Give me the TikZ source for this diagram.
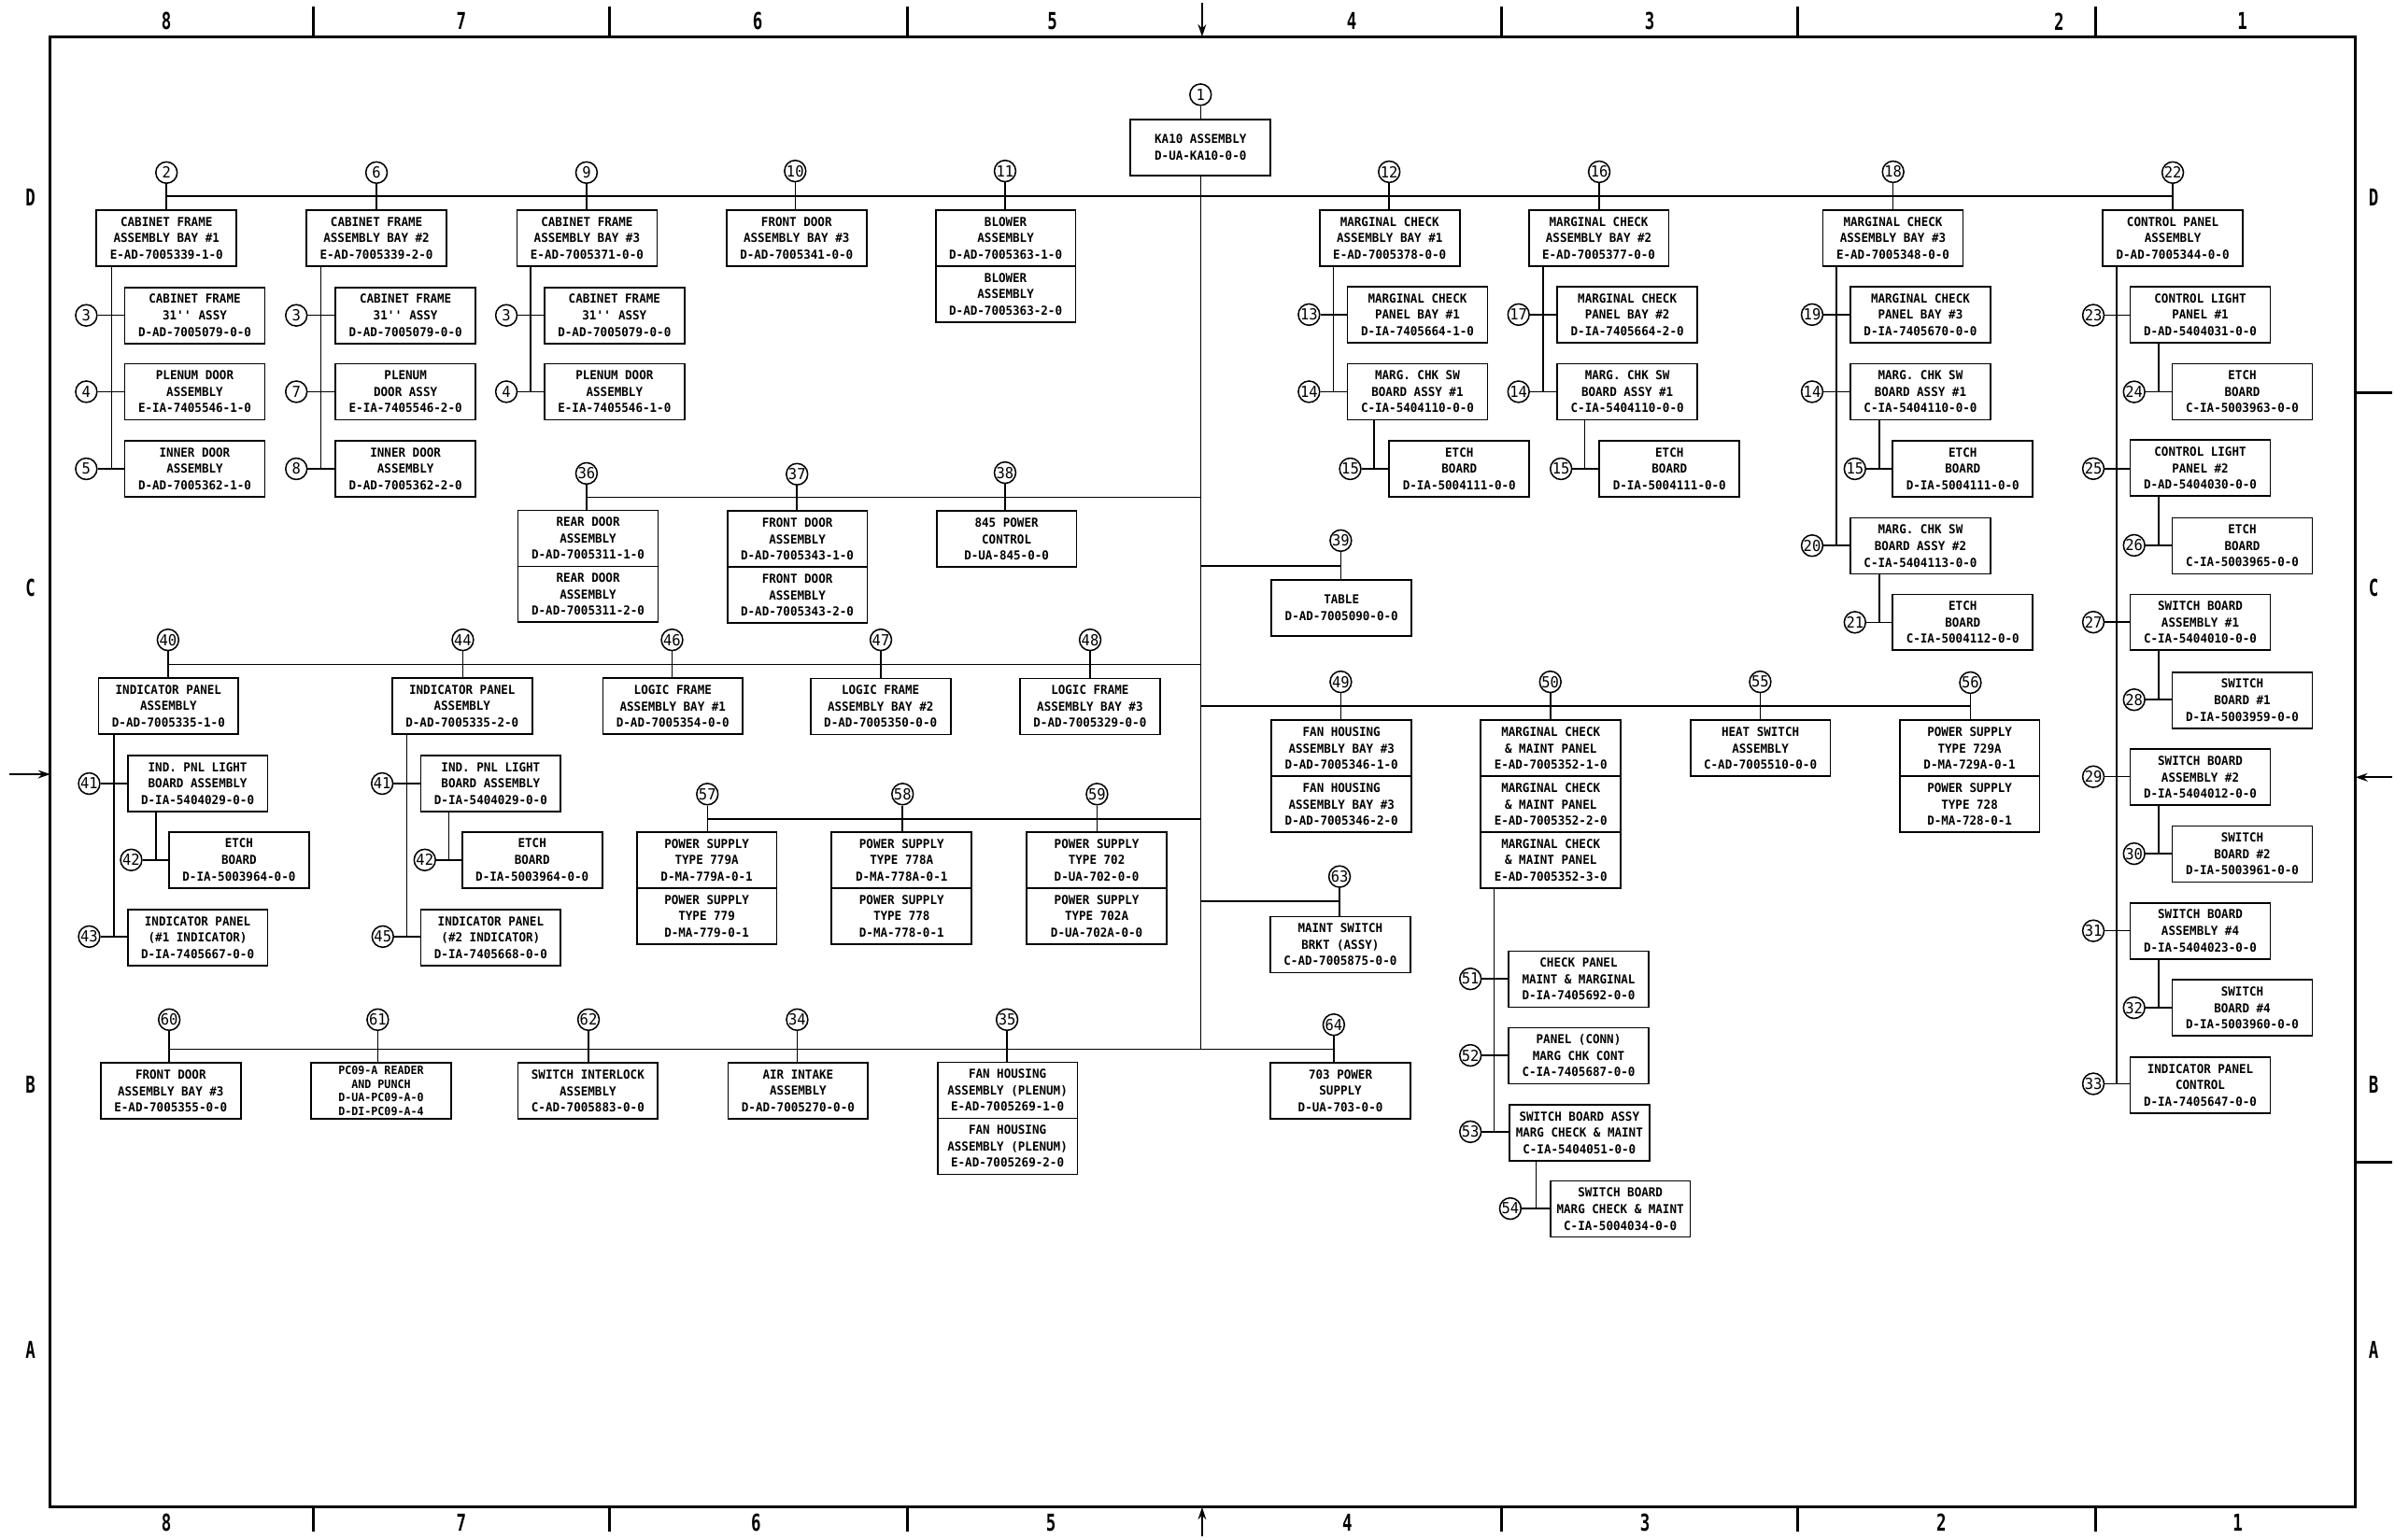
\documentclass[tikz,border=0pt]{standalone}
\usepackage{fontspec}
\newfontfamily\leroy[FakeStretch=0.95]{DejaVu Sans Mono}
\newfontfamily\zonefnt[FakeStretch=0.7]{DejaVu Sans Mono}
\usetikzlibrary{arrows.meta,positioning}

\begin{document}
\begin{tikzpicture}[x=0.3mm, y=-0.3mm,
  box/.style={draw, line width=0.9pt, outer sep=0pt, minimum width=27.5mm, minimum height=11mm, inner sep=1pt, align=center, font=\leroy\bfseries\fontsize{6.9}{9.2}\selectfont},
  tallbox/.style={box, font=\leroy\bfseries\fontsize{6.4}{7.6}\selectfont},
  bal/.style={draw, circle, line width=0.8pt, minimum size=4.2mm, inner sep=0pt, font=\leroy\fontsize{8.5}{8.5}\selectfont},
  ln/.style={line width=0.8pt},
  frm/.style={line width=1.6pt},
  zone/.style={font=\zonefnt\bfseries\fontsize{13}{13}\selectfont},
  arr/.style={-{Stealth[length=2.4mm,width=1.6mm]}, line width=1.1pt}]
  \useasboundingbox (0,0) rectangle (1568,1008);

  % sheet frame and zones
  \draw[frm] (33,24) rectangle (1542,987);
  \draw[frm] (205,4) -- (205,24) (399,4) -- (399,24) (594,4) -- (594,24)
    (983,4) -- (983,24) (1177,4) -- (1177,24) (1372,4) -- (1372,24);
  \draw[frm] (205,987) -- (205,1003) (399,987) -- (399,1003) (594,987) -- (594,1003)
    (983,987) -- (983,1003) (1177,987) -- (1177,1003) (1372,987) -- (1372,1003);
  \draw[frm] (1542,257) -- (1566,257) (1542,761) -- (1566,761);
  \draw[arr] (787,2) -- (787,24);
  \draw[arr] (787,1006) -- (787,987);
  \draw[arr] (6,507) -- (33,507);
  \draw[arr] (1566,509) -- (1542,509);
  \node[zone] (zt8) at (109,14) {8};
  \node[zone] (zt7) at (302,14) {7};
  \node[zone] (zt6) at (496,14) {6};
  \node[zone] (zt5) at (689,14) {5};
  \node[zone] (zt4) at (885,14) {4};
  \node[zone] (zt3) at (1080,14) {3};
  \node[zone] (zt2) at (1348,14) {2};
  \node[zone] (zt1) at (1468,14) {1};
  \node[zone] (zb8) at (109,997) {8};
  \node[zone] (zb7) at (302,997) {7};
  \node[zone] (zb6) at (495,997) {6};
  \node[zone] (zb5) at (688,997) {5};
  \node[zone] (zb4) at (882,997) {4};
  \node[zone] (zb3) at (1077,997) {3};
  \node[zone] (zb2) at (1271,997) {2};
  \node[zone] (zb1) at (1465,997) {1};
  \node[zone] (zlD) at (20,129) {D};
  \node[zone] (zlC) at (20,385) {C};
  \node[zone] (zlB) at (20,710) {B};
  \node[zone] (zlA) at (20,884) {A};
  \node[zone] (zrD) at (1554,129) {D};
  \node[zone] (zrC) at (1554,385) {C};
  \node[zone] (zrB) at (1554,710) {B};
  \node[zone] (zrA) at (1554,884) {A};

  % bus levels and spines
  \coordinate (topbus) at (0,128.5);
  \coordinate (bus36) at (0,325.7);
  \coordinate (bus39) at (0,370.5);
  \coordinate (bus40) at (0,435);
  \coordinate (bus49) at (0,462.4);
  \coordinate (bus57) at (0,536.2);
  \coordinate (bus63) at (0,590.2);
  \coordinate (botbus) at (0,687.1);
  \coordinate (sp2) at (73,0);
  \coordinate (sp6) at (210,0);
  \coordinate (sp9) at (347.2,0);
  \coordinate (sp12) at (873,0);
  \coordinate (sp14a) at (899.6,0);
  \coordinate (sp16) at (1010.3,0);
  \coordinate (sp14b) at (1037.5,0);
  \coordinate (sp18) at (1202.3,0);
  \coordinate (sp14c) at (1230.3,0);
  \coordinate (sp22) at (1385.7,0);
  \coordinate (sp23) at (1413.2,0);
  \coordinate (sp40) at (74.6,0);
  \coordinate (sp41a) at (102.1,0);
  \coordinate (sp44) at (266.4,0);
  \coordinate (sp41b) at (293.8,0);
  \coordinate (sp50) at (978.2,0);
  \coordinate (sp53) at (1005.7,0);

  % KA10
  \node[bal] (b1) at (786,62) {1};
  \node[box] (c1) at (786,96.5) {KA10 ASSEMBLY\\D-UA-KA10-0-0};

  % cabinet frames
  \node[bal] (b2) at (109,113) {2};
  \node[box] (c2) at (109,156) {CABINET FRAME\\ASSEMBLY BAY \#1\\E-AD-7005339-1-0};
  \node[bal] (b3a) at (56.5,206.5) {3};
  \node[box] (c3a) at (127.5,206.5) {CABINET FRAME\\31\textquotesingle\textquotesingle{} ASSY\\D-AD-7005079-0-0};
  \node[bal] (b4a) at (56.5,256.5) {4};
  \node[box] (c4a) at (127.5,256.5) {PLENUM DOOR\\ASSEMBLY\\E-IA-7405546-1-0};
  \node[bal] (b5) at (56.5,307) {5};
  \node[box] (c5) at (127.5,307) {INNER DOOR\\ASSEMBLY\\D-AD-7005362-1-0};

  \node[bal] (b6) at (246.5,113) {6};
  \node[box] (c6) at (246.5,156) {CABINET FRAME\\ASSEMBLY BAY \#2\\E-AD-7005339-2-0};
  \node[bal] (b3b) at (194,206.5) {3};
  \node[box] (c3b) at (265.5,206.5) {CABINET FRAME\\31\textquotesingle\textquotesingle{} ASSY\\D-AD-7005079-0-0};
  \node[bal] (b7) at (194,256.5) {7};
  \node[box] (c7) at (265.5,256.5) {PLENUM\\DOOR ASSY\\E-IA-7405546-2-0};
  \node[bal] (b8) at (194,307) {8};
  \node[box] (c8) at (265.5,307) {INNER DOOR\\ASSEMBLY\\D-AD-7005362-2-0};

  \node[bal] (b9) at (384,113) {9};
  \node[box] (c9) at (384.3,156) {CABINET FRAME\\ASSEMBLY BAY \#3\\E-AD-7005371-0-0};
  \node[bal] (b3c) at (331.5,206.5) {3};
  \node[box] (c3c) at (402.3,206.5) {CABINET FRAME\\31\textquotesingle\textquotesingle{} ASSY\\D-AD-7005079-0-0};
  \node[bal] (b4c) at (331.5,256.5) {4};
  \node[box] (c4c) at (402.3,256.5) {PLENUM DOOR\\ASSEMBLY\\E-IA-7405546-1-0};

  \node[bal] (b10) at (520.6,112) {10};
  \node[box] (c10) at (521.5,156) {FRONT DOOR\\ASSEMBLY BAY \#3\\D-AD-7005341-0-0};
  \node[bal] (b11) at (658,112) {11};
  \node[box] (c11a) at (658.4,156) {BLOWER\\ASSEMBLY\\D-AD-7005363-1-0};
  \node[box, below=0pt of c11a] (c11b) {BLOWER\\ASSEMBLY\\D-AD-7005363-2-0};

  % marginal check
  \node[bal] (b12) at (909.5,112.5) {12};
  \node[box] (c12) at (909.8,156) {MARGINAL CHECK\\ASSEMBLY BAY \#1\\E-AD-7005378-0-0};
  \node[bal] (b13) at (857,206) {13};
  \node[box] (c13) at (928,206) {MARGINAL CHECK\\PANEL BAY \#1\\D-IA-7405664-1-0};
  \node[bal] (b14a) at (857,256.5) {14};
  \node[box] (c14a) at (928,256.5) {MARG. CHK SW\\BOARD ASSY \#1\\C-IA-5404110-0-0};
  \node[bal] (b15a) at (884,307) {15};
  \node[box] (c15a) at (955.4,307) {ETCH\\BOARD\\D-IA-5004111-0-0};

  \node[bal] (b16) at (1047,112.5) {16};
  \node[box] (c16) at (1046.7,156) {MARGINAL CHECK\\ASSEMBLY BAY \#2\\E-AD-7005377-0-0};
  \node[bal] (b17) at (994.2,206) {17};
  \node[box] (c17) at (1065.4,206) {MARGINAL CHECK\\PANEL BAY \#2\\D-IA-7405664-2-0};
  \node[bal] (b14b) at (994.2,256.5) {14};
  \node[box] (c14b) at (1065.4,256.5) {MARG. CHK SW\\BOARD ASSY \#1\\C-IA-5404110-0-0};
  \node[bal] (b15b) at (1022,307) {15};
  \node[box] (c15b) at (1093,307) {ETCH\\BOARD\\D-IA-5004111-0-0};

  \node[bal] (b18) at (1239.4,112.5) {18};
  \node[box] (c18) at (1239.3,156) {MARGINAL CHECK\\ASSEMBLY BAY \#3\\E-AD-7005348-0-0};
  \node[bal] (b19) at (1186.4,206) {19};
  \node[box] (c19) at (1257.3,206) {MARGINAL CHECK\\PANEL BAY \#3\\D-IA-7405670-0-0};
  \node[bal] (b14c) at (1186.4,256.5) {14};
  \node[box] (c14c) at (1257.3,256.5) {MARG. CHK SW\\BOARD ASSY \#1\\C-IA-5404110-0-0};
  \node[bal] (b15c) at (1214.4,307) {15};
  \node[box] (c15c) at (1285,307) {ETCH\\BOARD\\D-IA-5004111-0-0};
  \node[bal] (b20) at (1186.4,357.3) {20};
  \node[box] (c20) at (1257.3,357.5) {MARG. CHK SW\\BOARD ASSY \#2\\C-IA-5404113-0-0};
  \node[bal] (b21) at (1214.4,407.5) {21};
  \node[box] (c21) at (1285,407.5) {ETCH\\BOARD\\C-IA-5004112-0-0};

  % control panel
  \node[bal] (b22) at (1422.5,113) {22};
  \node[box] (c22) at (1422.5,156) {CONTROL PANEL\\ASSEMBLY\\D-AD-7005344-0-0};
  \node[bal] (b23) at (1370.5,206.4) {23};
  \node[box] (c23) at (1440.5,206) {CONTROL LIGHT\\PANEL \#1\\D-AD-5404031-0-0};
  \node[bal] (b24) at (1397.2,256.6) {24};
  \node[box] (c24) at (1468,256.5) {ETCH\\BOARD\\C-IA-5003963-0-0};
  \node[bal] (b25) at (1370.5,306.9) {25};
  \node[box] (c25) at (1440.5,306.5) {CONTROL LIGHT\\PANEL \#2\\D-AD-5404030-0-0};
  \node[bal] (b26) at (1397.2,357.1) {26};
  \node[box] (c26) at (1468,357.5) {ETCH\\BOARD\\C-IA-5003965-0-0};
  \node[bal] (b27) at (1370.5,407.4) {27};
  \node[box] (c27) at (1440.5,407.5) {SWITCH BOARD\\ASSEMBLY \#1\\C-IA-5404010-0-0};
  \node[bal] (b28) at (1397.2,458.2) {28};
  \node[box] (c28) at (1468,458.5) {SWITCH\\BOARD \#1\\D-IA-5003959-0-0};
  \node[bal] (b29) at (1370.5,508.6) {29};
  \node[box] (c29) at (1440.5,509) {SWITCH BOARD\\ASSEMBLY \#2\\D-IA-5404012-0-0};
  \node[bal] (b30) at (1397.2,559) {30};
  \node[box] (c30) at (1468,559.3) {SWITCH\\BOARD \#2\\D-IA-5003961-0-0};
  \node[bal] (b31) at (1370.5,609.5) {31};
  \node[box] (c31) at (1440.5,609.5) {SWITCH BOARD\\ASSEMBLY \#4\\D-IA-5404023-0-0};
  \node[bal] (b32) at (1397.2,659.9) {32};
  \node[box] (c32) at (1468,660) {SWITCH\\BOARD \#4\\D-IA-5003960-0-0};
  \node[bal] (b33) at (1370.5,709.7) {33};
  \node[box] (c33) at (1440.5,710.5) {INDICATOR PANEL\\CONTROL\\D-IA-7405647-0-0};

  % doors, power control, table
  \node[bal] (b36) at (384,310) {36};
  \node[box] (c36a) at (385,352.5) {REAR DOOR\\ASSEMBLY\\D-AD-7005311-1-0};
  \node[box, below=0pt of c36a] (c36b) {REAR DOOR\\ASSEMBLY\\D-AD-7005311-2-0};
  \node[bal] (b37) at (521.8,310.5) {37};
  \node[box] (c37a) at (522,353) {FRONT DOOR\\ASSEMBLY\\D-AD-7005343-1-0};
  \node[box, below=0pt of c37a] (c37b) {FRONT DOOR\\ASSEMBLY\\D-AD-7005343-2-0};
  \node[bal] (b38) at (658,309.5) {38};
  \node[box] (c38) at (659,353) {845 POWER\\CONTROL\\D-UA-845-0-0};
  \node[bal] (b39) at (877.8,354) {39};
  \node[box] (c39) at (878.3,398) {TABLE\\D-AD-7005090-0-0};

  % indicator panels and logic frames
  \node[bal] (b40) at (110,419) {40};
  \node[box] (c40) at (110.3,462.3) {INDICATOR PANEL\\ASSEMBLY\\D-AD-7005335-1-0};
  \node[bal] (b41a) at (58.4,513.1) {41};
  \node[box] (c41a) at (129.4,513.2) {IND. PNL LIGHT\\BOARD ASSEMBLY\\D-IA-5404029-0-0};
  \node[bal] (b42a) at (85.9,563.1) {42};
  \node[box] (c42a) at (156.5,563.1) {ETCH\\BOARD\\D-IA-5003964-0-0};
  \node[bal] (b43) at (58.4,613.3) {43};
  \node[box] (c43) at (129.4,614) {INDICATOR PANEL\\(\#1 INDICATOR)\\D-IA-7405667-0-0};

  \node[bal] (b44) at (303,419) {44};
  \node[box] (c44) at (302.6,462.3) {INDICATOR PANEL\\ASSEMBLY\\D-AD-7005335-2-0};
  \node[bal] (b41b) at (250.2,513.1) {41};
  \node[box] (c41b) at (321.3,513.2) {IND. PNL LIGHT\\BOARD ASSEMBLY\\D-IA-5404029-0-0};
  \node[bal] (b42b) at (278.1,563.1) {42};
  \node[box] (c42b) at (348.4,563.1) {ETCH\\BOARD\\D-IA-5003964-0-0};
  \node[bal] (b45) at (250.6,613.3) {45};
  \node[box] (c45) at (321.3,614) {INDICATOR PANEL\\(\#2 INDICATOR)\\D-IA-7405668-0-0};

  \node[bal] (b46) at (440,419) {46};
  \node[box] (c46) at (440.5,462.5) {LOGIC FRAME\\ASSEMBLY BAY \#1\\D-AD-7005354-0-0};
  \node[bal] (b47) at (576.7,419) {47};
  \node[box] (c47) at (576.5,462.6) {LOGIC FRAME\\ASSEMBLY BAY \#2\\D-AD-7005350-0-0};
  \node[bal] (b48) at (713.7,419) {48};
  \node[box] (c48) at (713.6,462.6) {LOGIC FRAME\\ASSEMBLY BAY \#3\\D-AD-7005329-0-0};

  % fan housing, marginal check panels, heat switch
  \node[bal] (b49) at (877.8,446.5) {49};
  \node[box] (c49a) at (878.3,490) {FAN HOUSING\\ASSEMBLY BAY \#3\\D-AD-7005346-1-0};
  \node[box, below=0pt of c49a] (c49b) {FAN HOUSING\\ASSEMBLY BAY \#3\\D-AD-7005346-2-0};
  \node[bal] (b50) at (1015,446.5) {50};
  \node[box] (c50a) at (1015.3,490) {MARGINAL CHECK\\\& MAINT PANEL\\E-AD-7005352-1-0};
  \node[box, below=0pt of c50a] (c50b) {MARGINAL CHECK\\\& MAINT PANEL\\E-AD-7005352-2-0};
  \node[box, below=0pt of c50b] (c50c) {MARGINAL CHECK\\\& MAINT PANEL\\E-AD-7005352-3-0};
  \node[bal] (b51) at (962.7,641) {51};
  \node[box] (c51) at (1033.5,641.2) {CHECK PANEL\\MAINT \& MARGINAL\\D-IA-7405692-0-0};
  \node[bal] (b52) at (962.7,691.1) {52};
  \node[box] (c52) at (1033.5,691.3) {PANEL (CONN)\\MARG CHK CONT\\C-IA-7405687-0-0};
  \node[bal] (b53) at (962.7,741.1) {53};
  \node[box] (c53) at (1034,741.7) {SWITCH BOARD ASSY\\MARG CHECK \& MAINT\\C-IA-5404051-0-0};
  \node[bal] (b54) at (988.8,791.4) {54};
  \node[box] (c54) at (1060.8,791.7) {SWITCH BOARD\\MARG CHECK \& MAINT\\C-IA-5004034-0-0};
  \node[bal] (b55) at (1152.4,446.5) {55};
  \node[box] (c55) at (1152.5,490) {HEAT SWITCH\\ASSEMBLY\\C-AD-7005510-0-0};
  \node[bal] (b56) at (1290,447) {56};
  \node[box] (c56a) at (1289.5,490) {POWER SUPPLY\\TYPE 729A\\D-MA-729A-0-1};
  \node[box, below=0pt of c56a] (c56b) {POWER SUPPLY\\TYPE 728\\D-MA-728-0-1};

  % power supplies
  \node[bal] (b57) at (463.1,520) {57};
  \node[box] (c57a) at (462.7,563.3) {POWER SUPPLY\\TYPE 779A\\D-MA-779A-0-1};
  \node[box, below=0pt of c57a] (c57b) {POWER SUPPLY\\TYPE 779\\D-MA-779-0-1};
  \node[bal] (b58) at (590.9,520) {58};
  \node[box] (c58a) at (590.3,563.3) {POWER SUPPLY\\TYPE 778A\\D-MA-778A-0-1};
  \node[box, below=0pt of c58a] (c58b) {POWER SUPPLY\\TYPE 778\\D-MA-778-0-1};
  \node[bal] (b59) at (718.2,520) {59};
  \node[box] (c59a) at (718,563.3) {POWER SUPPLY\\TYPE 702\\D-UA-702-0-0};
  \node[box, below=0pt of c59a] (c59b) {POWER SUPPLY\\TYPE 702A\\D-UA-702A-0-0};
  \node[bal] (b63) at (877,574) {63};
  \node[box] (c63) at (877.5,618.5) {MAINT SWITCH\\BRKT (ASSY)\\C-AD-7005875-0-0};

  % bottom row
  \node[bal] (b60) at (110.8,667.7) {60};
  \node[box] (c60) at (111.8,714.4) {FRONT DOOR\\ASSEMBLY BAY \#3\\E-AD-7005355-0-0};
  \node[bal] (b61) at (247.3,667.7) {61};
  \node[tallbox] (c61) at (249.5,714.4) {PC09-A READER\\AND PUNCH\\D-UA-PC09-A-0\\D-DI-PC09-A-4};
  \node[bal] (b62) at (385.3,667.7) {62};
  \node[box] (c62) at (384.9,714.4) {SWITCH INTERLOCK\\ASSEMBLY\\C-AD-7005883-0-0};
  \node[bal] (b34) at (521.9,667.7) {34};
  \node[box] (c34) at (522.5,714.4) {AIR INTAKE\\ASSEMBLY\\D-AD-7005270-0-0};
  \node[bal] (b35) at (659.3,667.7) {35};
  \node[box] (c35a) at (659.6,714) {FAN HOUSING\\ASSEMBLY (PLENUM)\\E-AD-7005269-1-0};
  \node[box, below=0pt of c35a] (c35b) {FAN HOUSING\\ASSEMBLY (PLENUM)\\E-AD-7005269-2-0};
  \node[bal] (b64) at (873.2,671) {64};
  \node[box] (c64) at (877.6,714.3) {703 POWER\\SUPPLY\\D-UA-703-0-0};

  % trunk and buses
  \draw[ln] (b1) -- (b1 |- c1.north);
  \draw[ln] (c1.south) -- (c1 |- botbus);
  \draw[ln] (b2 |- topbus) -- (b22 |- topbus);
  \draw[ln] (b36 |- bus36) -- (c1 |- bus36);
  \draw[ln] (c1 |- bus39) -- (b39 |- bus39);
  \draw[ln] (b40 |- bus40) -- (c1 |- bus40);
  \draw[ln] (c1 |- bus49) -- (b56 |- bus49);
  \draw[ln] (b57 |- bus57) -- (c1 |- bus57);
  \draw[ln] (c1 |- bus63) -- (b63 |- bus63);
  \draw[ln] (b60 |- botbus) -- (b64 |- botbus);

  % balloon stems
  \draw[ln] (b2) -- (b2 |- c2.north);
  \draw[ln] (b6) -- (b6 |- c6.north);
  \draw[ln] (b9) -- (b9 |- c9.north);
  \draw[ln] (b10) -- (b10 |- c10.north);
  \draw[ln] (b11) -- (b11 |- c11a.north);
  \draw[ln] (b12) -- (b12 |- c12.north);
  \draw[ln] (b16) -- (b16 |- c16.north);
  \draw[ln] (b18) -- (b18 |- c18.north);
  \draw[ln] (b22) -- (b22 |- c22.north);
  \draw[ln] (b36) -- (b36 |- c36a.north);
  \draw[ln] (b37) -- (b37 |- c37a.north);
  \draw[ln] (b38) -- (b38 |- c38.north);
  \draw[ln] (b39) -- (b39 |- c39.north);
  \draw[ln] (b40) -- (b40 |- c40.north);
  \draw[ln] (b44) -- (b44 |- c44.north);
  \draw[ln] (b46) -- (b46 |- c46.north);
  \draw[ln] (b47) -- (b47 |- c47.north);
  \draw[ln] (b48) -- (b48 |- c48.north);
  \draw[ln] (b49) -- (b49 |- c49a.north);
  \draw[ln] (b50) -- (b50 |- c50a.north);
  \draw[ln] (b55) -- (b55 |- c55.north);
  \draw[ln] (b56) -- (b56 |- c56a.north);
  \draw[ln] (b57) -- (b57 |- c57a.north);
  \draw[ln] (b58) -- (b58 |- c58a.north);
  \draw[ln] (b59) -- (b59 |- c59a.north);
  \draw[ln] (b63) -- (b63 |- c63.north);
  \draw[ln] (b60) -- (b60 |- c60.north);
  \draw[ln] (b61) -- (b61 |- c61.north);
  \draw[ln] (b62) -- (b62 |- c62.north);
  \draw[ln] (b34) -- (b34 |- c34.north);
  \draw[ln] (b35) -- (b35 |- c35a.north);
  \draw[ln] (b64) -- (b64 |- c64.north);

  % spines
  \draw[ln] (c2.south -| sp2) -- (b5 -| sp2);
  \draw[ln] (c6.south -| sp6) -- (b8 -| sp6);
  \draw[ln] (c9.south -| sp9) -- (b4c -| sp9);
  \draw[ln] (c12.south -| sp12) -- (b14a -| sp12);
  \draw[ln] (c14a.south -| sp14a) -- (b15a -| sp14a);
  \draw[ln] (c16.south -| sp16) -- (b14b -| sp16);
  \draw[ln] (c14b.south -| sp14b) -- (b15b -| sp14b);
  \draw[ln] (c18.south -| sp18) -- (b20 -| sp18);
  \draw[ln] (c14c.south -| sp14c) -- (b15c -| sp14c);
  \draw[ln] (c20.south -| sp14c) -- (b21 -| sp14c);
  \draw[ln] (c22.south -| sp22) -- (b33 -| sp22);
  \draw[ln] (c23.south -| sp23) -- (b24 -| sp23);
  \draw[ln] (c25.south -| sp23) -- (b26 -| sp23);
  \draw[ln] (c27.south -| sp23) -- (b28 -| sp23);
  \draw[ln] (c29.south -| sp23) -- (b30 -| sp23);
  \draw[ln] (c31.south -| sp23) -- (b32 -| sp23);
  \draw[ln] (c40.south -| sp40) -- (b43 -| sp40);
  \draw[ln] (c41a.south -| sp41a) -- (b42a -| sp41a);
  \draw[ln] (c44.south -| sp44) -- (b45 -| sp44);
  \draw[ln] (c41b.south -| sp41b) -- (b42b -| sp41b);
  \draw[ln] (c50c.south -| sp50) -- (b53 -| sp50);
  \draw[ln] (c53.south -| sp53) -- (b54 -| sp53);

  % side branches
  \draw[ln] (b3a) -- (b3a -| c3a.west);
  \draw[ln] (b4a) -- (b4a -| c4a.west);
  \draw[ln] (b5) -- (b5 -| c5.west);
  \draw[ln] (b3b) -- (b3b -| c3b.west);
  \draw[ln] (b7) -- (b7 -| c7.west);
  \draw[ln] (b8) -- (b8 -| c8.west);
  \draw[ln] (b3c) -- (b3c -| c3c.west);
  \draw[ln] (b4c) -- (b4c -| c4c.west);
  \draw[ln] (b13) -- (b13 -| c13.west);
  \draw[ln] (b14a) -- (b14a -| c14a.west);
  \draw[ln] (b15a) -- (b15a -| c15a.west);
  \draw[ln] (b17) -- (b17 -| c17.west);
  \draw[ln] (b14b) -- (b14b -| c14b.west);
  \draw[ln] (b15b) -- (b15b -| c15b.west);
  \draw[ln] (b19) -- (b19 -| c19.west);
  \draw[ln] (b14c) -- (b14c -| c14c.west);
  \draw[ln] (b15c) -- (b15c -| c15c.west);
  \draw[ln] (b20) -- (b20 -| c20.west);
  \draw[ln] (b21) -- (b21 -| c21.west);
  \draw[ln] (b23) -- (b23 -| c23.west);
  \draw[ln] (b24) -- (b24 -| c24.west);
  \draw[ln] (b25) -- (b25 -| c25.west);
  \draw[ln] (b26) -- (b26 -| c26.west);
  \draw[ln] (b27) -- (b27 -| c27.west);
  \draw[ln] (b28) -- (b28 -| c28.west);
  \draw[ln] (b29) -- (b29 -| c29.west);
  \draw[ln] (b30) -- (b30 -| c30.west);
  \draw[ln] (b31) -- (b31 -| c31.west);
  \draw[ln] (b32) -- (b32 -| c32.west);
  \draw[ln] (b33) -- (b33 -| c33.west);
  \draw[ln] (b41a) -- (b41a -| c41a.west);
  \draw[ln] (b42a) -- (b42a -| c42a.west);
  \draw[ln] (b43) -- (b43 -| c43.west);
  \draw[ln] (b41b) -- (b41b -| c41b.west);
  \draw[ln] (b42b) -- (b42b -| c42b.west);
  \draw[ln] (b45) -- (b45 -| c45.west);
  \draw[ln] (b51) -- (b51 -| c51.west);
  \draw[ln] (b52) -- (b52 -| c52.west);
  \draw[ln] (b53) -- (b53 -| c53.west);
  \draw[ln] (b54) -- (b54 -| c54.west);
\end{tikzpicture}
\end{document}
